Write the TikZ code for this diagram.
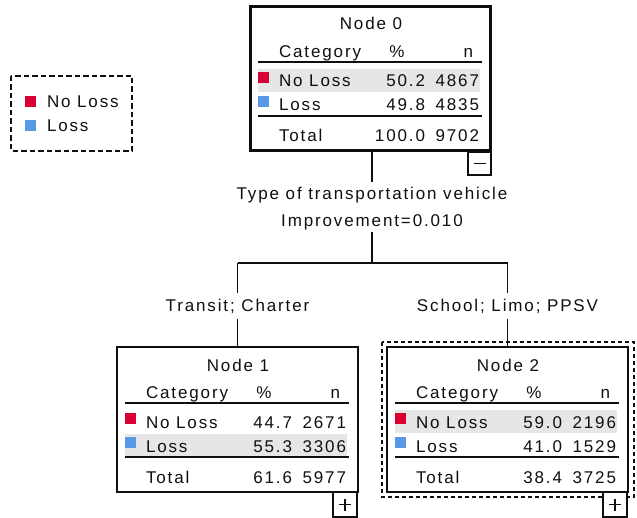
\documentclass[tikz,border=0pt]{standalone}
\usepackage{fontspec}
\setmainfont{Liberation Sans}[LetterSpace=11]
\definecolor{nlred}{RGB}{218,0,52}
\definecolor{lblue}{RGB}{88,152,230}
\definecolor{bandgray}{RGB}{230,230,230}
\definecolor{ink}{RGB}{15,15,15}
\tikzset{
  tx/.style={inner sep=0pt, outer sep=0pt, text=ink, font=\fontsize{17}{19}\selectfont},
  lbl/.style={tx, text height=13pt, text depth=2pt, inner xsep=2pt},
  conn/.style={draw=ink, line width=1.2pt},
  rule/.style={draw=ink, line width=1.4pt},
  thinbox/.style={draw=ink, line width=1.2pt, minimum width=241pt, minimum height=145pt, anchor=north west, inner sep=0pt, outer sep=0pt},
  btn/.style={draw=ink, line width=1.2pt, fill=white},
}
\newcommand\nodebody[9]{%
  \fill[bandgray] (8,#9) rectangle (230,#9+23);
  \node[tx,anchor=base] (#1title) at (121,24) {#2};
  \node[tx,anchor=base west] (#1cat) at (29,52) {Category};
  \node[tx,anchor=base] (#1pc) at (147,52) {\%};
  \node[tx,anchor=base east] (#1nn) at (223,52) {n};
  \draw[rule] (8,56) -- (232,56);
  \fill[nlred] (8,66) rectangle (19,77);
  \node[tx,anchor=base west] (#1r1) at (29,81) {No Loss};
  \node[tx,anchor=base east] (#1r1p) at (175,81) {#3};
  \node[tx,anchor=base east] (#1r1n) at (229,81) {#4};
  \fill[lblue] (8,90) rectangle (19,101);
  \node[tx,anchor=base west] (#1r2) at (29,105) {Loss};
  \node[tx,anchor=base east] (#1r2p) at (175,105) {#5};
  \node[tx,anchor=base east] (#1r2n) at (229,105) {#6};
  \draw[rule] (8,110) -- (232,110);
  \node[tx,anchor=base west] (#1tot) at (29,136) {Total};
  \node[tx,anchor=base east] (#1totp) at (175,136) {#7};
  \node[tx,anchor=base east] (#1totn) at (229,136) {#8};
}
\begin{document}
\begin{tikzpicture}[x=1pt,y=-1pt]
\useasboundingbox[fill=white] (0,0) rectangle (637,518);

% legend
\draw[ink, line width=1.4pt, dash pattern=on 5.5pt off 3pt] (11,76) rectangle (132,151);
\fill[nlred] (25,96) rectangle (36,107);
\node[tx,anchor=base west] (legnl) at (47,107.5) {No Loss};
\fill[lblue] (25,120) rectangle (36,131);
\node[tx,anchor=base west] (legl) at (47,131.5) {Loss};

% node 0
\node[draw=ink, line width=3pt, minimum width=240pt, minimum height=144pt, anchor=north west, inner sep=0pt, outer sep=0pt] (n0) at (250.5,6.5) {};
\begin{scope}[shift={(250,6)}]
  \nodebody{a}{Node 0}{50.2}{4867}{49.8}{4835}{100.0}{9702}{63}
\end{scope}
\draw[btn] (468,152) rectangle (491,175);
\draw[ink, line width=1.4pt] (473.5,163.5) -- (485.5,163.5);

% split labels
\node[lbl, inner ysep=4.7pt] (q1) at (372,194) {Type of transportation vehicle};
\node[lbl, inner ysep=3.5pt] (q2) at (372,221) {Improvement=0.010};
\draw[conn] (n0.south -| q1.north) -- (q1.north);
\coordinate (jc) at (372,263);
\coordinate (jl) at (237.5,263);
\coordinate (jr) at (507.5,263);
\draw[conn] (q2.south) -- (jc);
\draw[conn] (jl) -- (jr);
\node[lbl, inner ysep=5.5pt] (l1) at (237.5,306) {Transit; Charter};
\node[lbl, inner ysep=5.5pt] (l2) at (507.5,306) {School; Limo; PPSV};
\draw[conn] (jl) -- (l1.north);
\draw[conn] (jr) -- (l2.north);

% node 1
\node[thinbox] (n1) at (117,347) {};
\begin{scope}[shift={(117,347)}]
  \nodebody{b}{Node 1}{44.7}{2671}{55.3}{3306}{61.6}{5977}{87}
\end{scope}
\draw[btn] (333,492) rectangle (357,517);
\draw[ink, line width=1.4pt] (339,504.5) -- (351,504.5) (345,498.5) -- (345,510.5);

% node 2
\draw[ink, line width=1.3pt, dash pattern=on 4pt off 3pt] (382,342) rectangle (634,497);
\node[thinbox] (n2) at (387,347) {};
\begin{scope}[shift={(387,347)}]
  \nodebody{c}{Node 2}{59.0}{2196}{41.0}{1529}{38.4}{3725}{63}
\end{scope}
\draw[btn] (603,492) rectangle (627,517);
\draw[ink, line width=1.4pt] (609,504.5) -- (621,504.5) (615,498.5) -- (615,510.5);

\draw[conn] (l1.south) -- (n1.north);
\draw[conn] (l2.south) -- (n2.north);
\end{tikzpicture}
\end{document}
